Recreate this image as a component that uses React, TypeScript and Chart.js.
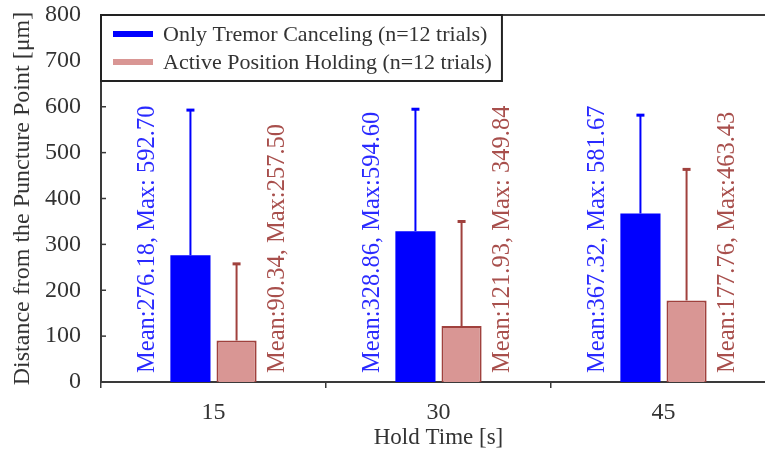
import React, { useEffect, useRef } from 'react';
import { Chart, registerables } from 'chart.js';

Chart.register(...registerables);

const categories = ['15', '30', '45'];
const tremorMean = [276.18, 328.86, 367.32];
const tremorMax = [592.7, 594.6, 581.67];
const holdMean = [90.34, 121.93, 177.76];
const holdMax = [257.5, 349.84, 463.43];
const tremorLabels = ['Mean:276.18, Max: 592.70', 'Mean:328.86, Max:594.60', 'Mean:367.32, Max: 581.67'];
const holdLabels = ['Mean:90.34, Max:257.50', 'Mean:121.93, Max: 349.84', 'Mean:177.76, Max:463.43'];
const seriesNames = ['Only Tremor Canceling (n=12 trials)', 'Active Position Holding (n=12 trials)'];
const yMin = 0;
const yMax = 800;
const yStep = 100;

const SERIF = "'Liberation Serif', 'Times New Roman', serif";
const AXIS = '#3a3a3a';
const TEXT = '#333333';

const decor = {
  id: 'decor',
  afterDatasetsDraw(chart: any) {
    const ctx = chart.ctx as CanvasRenderingContext2D;
    const { left, right, top, bottom } = chart.chartArea;
    const y = chart.scales.y;
    ctx.save();
    // top frame line
    ctx.strokeStyle = AXIS;
    ctx.lineWidth = 2;
    ctx.beginPath();
    ctx.moveTo(left, top);
    ctx.lineTo(right + 20, top);
    ctx.stroke();
    // inward y ticks
    ctx.lineWidth = 1.5;
    y.ticks.forEach((t: any) => {
      const py = y.getPixelForValue(t.value);
      ctx.beginPath();
      ctx.moveTo(left, py);
      ctx.lineTo(left + 5, py);
      ctx.stroke();
    });
    // error bars and rotated labels
    chart.data.datasets.forEach((ds: any, di: number) => {
      const meta = chart.getDatasetMeta(di);
      meta.data.forEach((bar: any, i: number) => {
        const py = y.getPixelForValue(ds.maxValues[i]);
        ctx.strokeStyle = ds.errColor;
        ctx.lineWidth = 2;
        ctx.beginPath();
        ctx.moveTo(bar.x, bar.y);
        ctx.lineTo(bar.x, py);
        ctx.stroke();
        ctx.lineWidth = 3;
        ctx.beginPath();
        ctx.moveTo(bar.x - 4, py);
        ctx.lineTo(bar.x + 4, py);
        ctx.stroke();
        ctx.save();
        ctx.translate(bar.x + ds.labelOffset, bottom - 9);
        ctx.rotate(-Math.PI / 2);
        ctx.font = `24.5px ${SERIF}`;
        ctx.fillStyle = ds.textColor;
        ctx.textAlign = 'left';
        ctx.textBaseline = 'middle';
        ctx.fillText(ds.valueLabels[i], 0, 0);
        ctx.restore();
      });
    });
    // legend box
    ctx.font = `22px ${SERIF}`;
    const textX = left + 62;
    let maxW = 0;
    chart.data.datasets.forEach((ds: any) => {
      maxW = Math.max(maxW, ctx.measureText(ds.label).width);
    });
    const boxRight = textX + maxW + 10;
    const boxBottom = top + 66;
    ctx.fillStyle = '#ffffff';
    ctx.fillRect(left, top, boxRight - left, boxBottom - top);
    ctx.strokeStyle = '#222222';
    ctx.lineWidth = 2;
    ctx.strokeRect(left, top, boxRight - left, boxBottom - top);
    chart.data.datasets.forEach((ds: any, di: number) => {
      const ry = top + 19 + di * 28;
      ctx.strokeStyle = ds.legendColor;
      ctx.lineWidth = 6;
      ctx.beginPath();
      ctx.moveTo(left + 12, ry);
      ctx.lineTo(left + 52, ry);
      ctx.stroke();
      ctx.fillStyle = TEXT;
      ctx.textAlign = 'left';
      ctx.textBaseline = 'middle';
      ctx.fillText(ds.label, textX, ry + 1);
    });
    ctx.restore();
  },
};

export default function App() {
  const ref = useRef<HTMLCanvasElement | null>(null);
  useEffect(() => {
    if (!ref.current) return;
    const chart = new Chart(ref.current, {
      type: 'bar',
      data: {
        labels: categories,
        datasets: [
          {
            label: seriesNames[0],
            data: tremorMean,
            backgroundColor: '#0000ff',
            borderColor: '#0000ff',
            borderWidth: 0,
            maxValues: tremorMax,
            valueLabels: tremorLabels,
            errColor: '#0000ff',
            textColor: '#2a2aff',
            legendColor: '#0000ff',
            labelOffset: -43,
          } as any,
          {
            label: seriesNames[1],
            data: holdMean,
            backgroundColor: '#d99694',
            borderColor: '#a0413d',
            borderWidth: 2,
            maxValues: holdMax,
            valueLabels: holdLabels,
            errColor: '#a0413d',
            textColor: '#a84f4c',
            legendColor: '#d99694',
            labelOffset: 41,
          } as any,
        ],
      },
      options: {
        animation: false,
        responsive: false,
        maintainAspectRatio: false,
        layout: { padding: { top: 0, right: 14, left: 0, bottom: 0 } },
        plugins: { legend: { display: false }, tooltip: { enabled: false } },
        datasets: { bar: { categoryPercentage: 0.41, barPercentage: 0.87 } },
        scales: {
          x: {
            offset: true,
            grid: { display: true, drawOnChartArea: false, drawTicks: true, tickLength: 6, color: AXIS, lineWidth: 1.5, offset: true },
            border: { display: true, color: AXIS, width: 2 },
            ticks: { color: TEXT, font: { family: SERIF, size: 24, lineHeight: 1.2 }, padding: 10 },
            title: { display: true, text: 'Hold Time [s]', color: TEXT, font: { family: SERIF, size: 23, lineHeight: 1.2 }, padding: { top: 0, bottom: 0 } },
            afterFit(s: any) { s.height = 70; },
          },
          y: {
            min: yMin,
            max: yMax,
            grid: { display: false, drawTicks: false },
            border: { display: true, color: AXIS, width: 2 },
            ticks: { stepSize: yStep, color: TEXT, font: { family: SERIF, size: 24, lineHeight: 1.2 }, padding: 20 },
            title: { display: true, text: 'Distance from the Puncture Point [μm]', color: TEXT, font: { family: SERIF, size: 24, lineHeight: 1.2 }, padding: { top: 8, bottom: 0 } },
            afterFit(s: any) { s.width = 101; s.paddingTop = 15; s.paddingBottom = 0; },
          },
        },
      } as any,
      plugins: [decor],
    });
    return () => chart.destroy();
  }, []);
  return (
    <div style={{ position: 'fixed', left: 0, top: 0, width: 765, height: 452, overflow: 'hidden', background: '#fff' }}>
      <canvas ref={ref} width={790} height={452} style={{ display: 'block', width: 790, height: 452 }} />
    </div>
  );
}
